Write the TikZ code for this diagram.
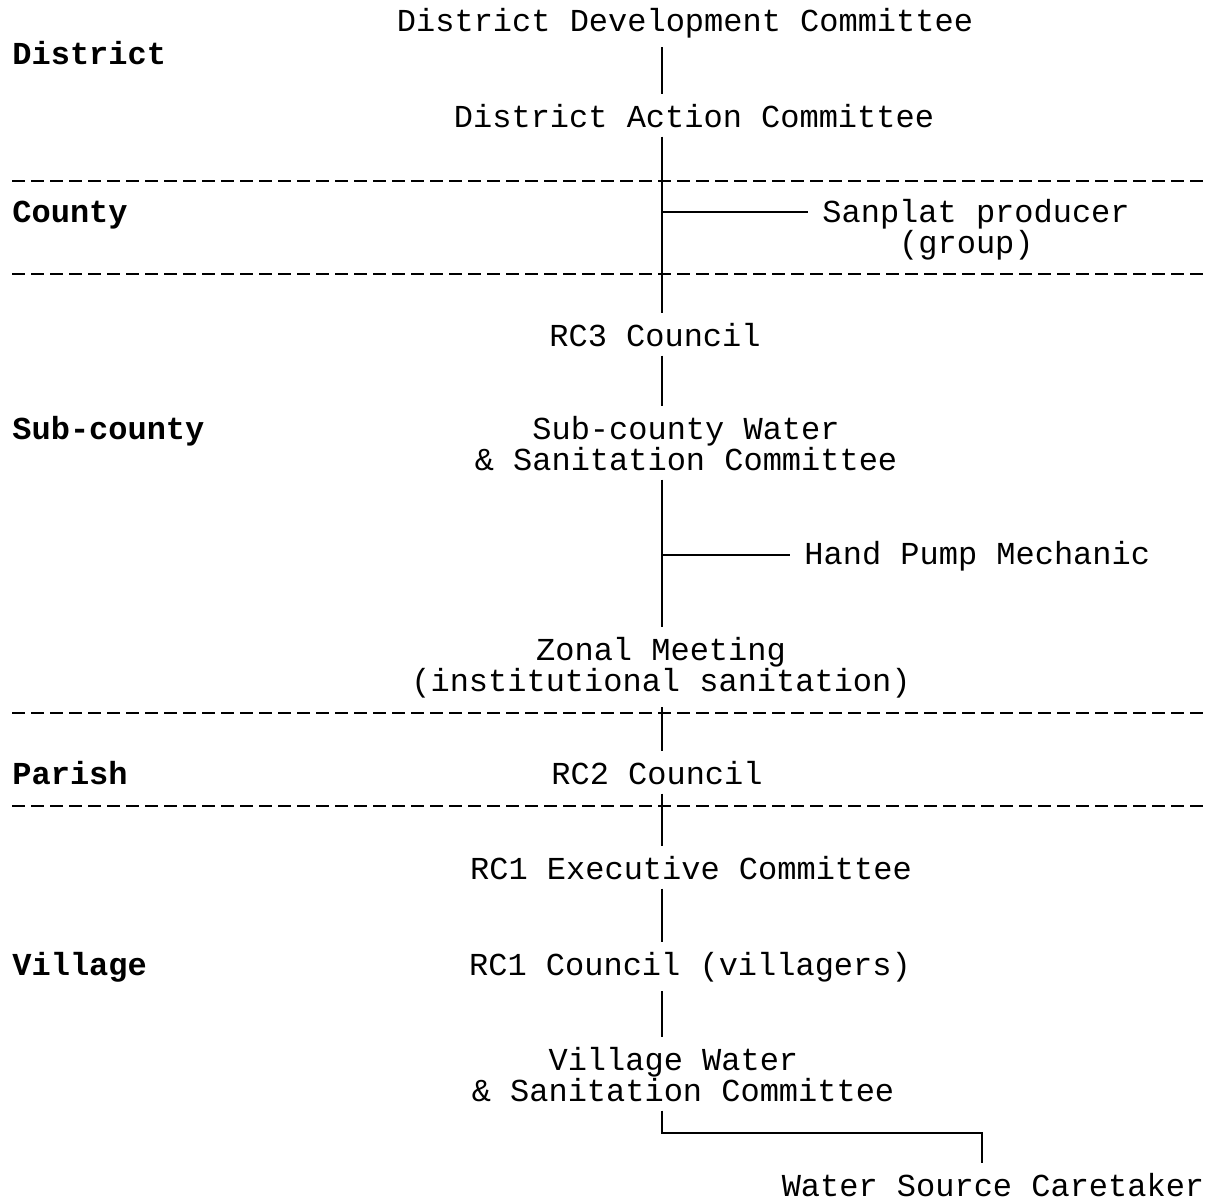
\documentclass[tikz,border=0pt]{standalone}
\usepackage{fontspec}
\setmainfont{Liberation Mono}
\usetikzlibrary{positioning}

\begin{document}
\begin{tikzpicture}[x=0.5pt,y=-0.5pt,
  box/.style={inner xsep=0pt,inner ysep=4.5pt,align=center,font=\fontsize{16}{15.5}\selectfont},
  level/.style={anchor=base west,inner sep=0pt,font=\fontsize{16}{15.5}\selectfont\bfseries},
  link/.style={line width=1pt},
  border/.style={line width=1.3pt,dash pattern=on 6.5pt off 3pt}]
\useasboundingbox (0,0) rectangle (1216,1201);
%spine of the chart
\coordinate (spine) at (662,0);
%levels
\node[level] (district) at (12,64) {District};
\node[level] (county) at (12,222) {County};
\node[level] (subcounty) at (12,439) {Sub-county};
\node[level] (parish) at (12,784) {Parish};
\node[level] (village) at (12,975) {Village};
%borders between levels
\foreach \y in {181,274,713,806}
  \draw[border] (12,\y) -- (1206,\y);
%committees (two-line nodes sit on their last line)
\node[box,anchor=base] (ddc) at (685,31) {District Development Committee};
\node[box,anchor=base] (dac) at (694,127) {District Action Committee};
\node[box,anchor=base west,align=left] (sanplat) at (822,253) {Sanplat producer\\\hphantom{Sanp}(group)};
\node[box,anchor=base] (rcthree) at (655,346) {RC3 Council};
\node[box,anchor=base] (swsc) at (686,470) {Sub-county Water\\\& Sanitation Committee};
\node[box,anchor=base west] (hpm) at (804,564) {Hand Pump Mechanic};
\node[box,anchor=base] (zonal) at (661,691) {Zonal Meeting\\(institutional sanitation)};
\node[box,anchor=base] (rctwo) at (657,784) {RC2 Council};
\node[box,anchor=base] (rcexec) at (691,879) {RC1 Executive Committee};
\node[box,anchor=base] (rccouncil) at (690,975) {RC1 Council (villagers)};
\node[box,anchor=base] (vwsc) at (683,1101) {Village Water\hphantom{x}\\\& Sanitation Committee};
\node[box,anchor=base] (caretaker) at (993,1196) {Water Source Caretaker};
%joints
\coordinate (sanjoin) at (662,212);
\coordinate (pumpjoin) at (662,555);
\coordinate (caredrop) at (982,1133);
%connectors
\draw[link] (ddc.south -| spine) -- (dac.north -| spine);
\draw[link] (dac.south -| spine) -- (rcthree.north -| spine);
\draw[link] (sanjoin) -- ([xshift=-7pt]sanplat.west |- sanjoin);
\draw[link] (rcthree.south -| spine) -- (swsc.north -| spine);
\draw[link] (swsc.south -| spine) -- (zonal.north -| spine);
\draw[link] (pumpjoin) -- ([xshift=-7pt]hpm.west |- pumpjoin);
\draw[link] (zonal.south -| spine) -- (rctwo.north -| spine);
\draw[link] (rctwo.south -| spine) -- (rcexec.north -| spine);
\draw[link] (rcexec.south -| spine) -- (rccouncil.north -| spine);
\draw[link] (rccouncil.south -| spine) -- (vwsc.north -| spine);
\draw[link] (vwsc.south -| spine) |- (caredrop) -- (caretaker.north -| caredrop);
\end{tikzpicture}
\end{document}
